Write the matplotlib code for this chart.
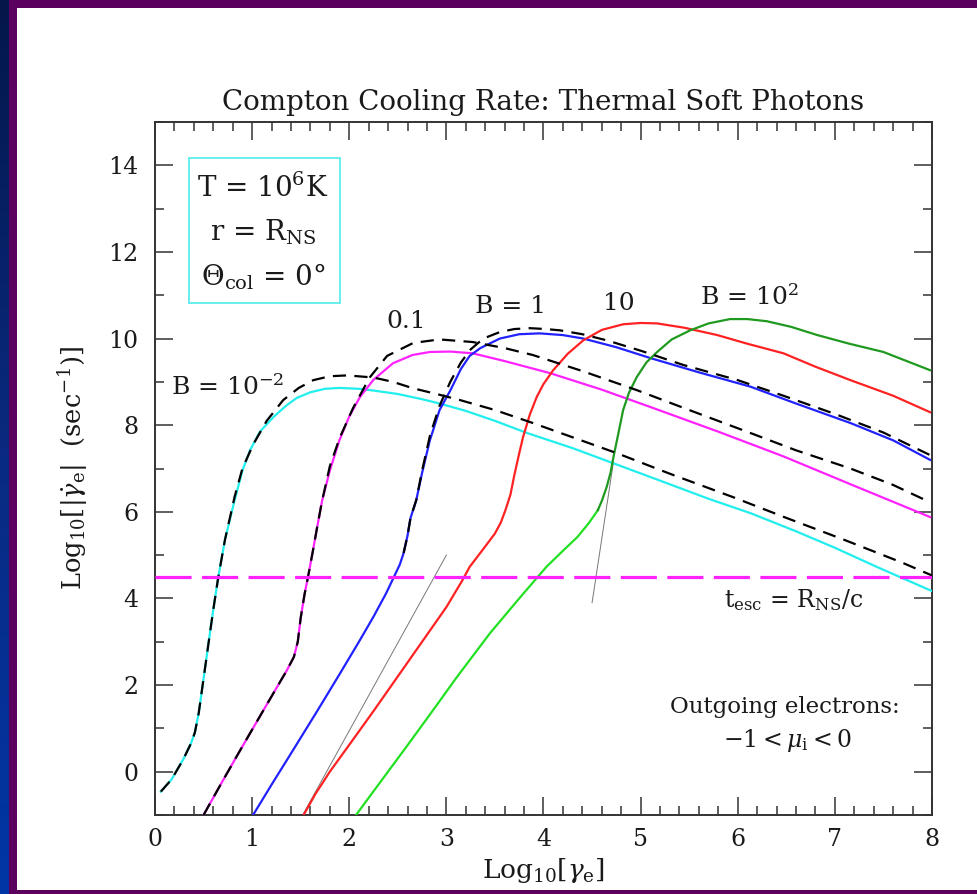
import numpy as np
import matplotlib
matplotlib.use("Agg")
import matplotlib.pyplot as plt
from matplotlib.patches import Rectangle
from matplotlib.ticker import MultipleLocator
from matplotlib.colors import LinearSegmentedColormap

plt.rcParams['font.family'] = ['DejaVu Serif']
plt.rcParams['mathtext.fontset'] = 'dejavuserif'
plt.rcParams['lines.scale_dashes'] = False

# ---------------- data ----------------
b001_solid_x = [0.06, 0.17, 0.29, 0.37, 0.41, 0.45, 0.50, 0.55, 0.60, 0.65, 0.72, 0.82, 0.90, 0.98, 1.08,
                1.22, 1.35, 1.46, 1.60, 1.75, 1.90, 2.10, 2.25, 2.50, 2.75, 2.93, 3.20, 3.50, 3.83, 4.30,
                4.72, 5.20, 5.70, 6.13, 6.60, 7.00, 7.43, 8.00]
b001_solid_y = [-0.46, -0.18, 0.28, 0.65, 0.90, 1.35, 2.15, 2.95, 3.74, 4.47, 5.35, 6.27, 6.95, 7.43, 7.85,
                8.19, 8.45, 8.63, 8.76, 8.84, 8.86, 8.84, 8.80, 8.72, 8.60, 8.50, 8.33, 8.10, 7.82, 7.47,
                7.12, 6.72, 6.30, 5.97, 5.55, 5.17, 4.73, 4.17]

b001_dash_x = [0.06, 0.17, 0.29, 0.37, 0.41, 0.45, 0.50, 0.55, 0.60, 0.65, 0.72, 0.82, 0.90, 1.01, 1.15,
               1.32, 1.48, 1.63, 1.80, 1.98, 2.25, 2.45, 2.66, 2.90, 3.14, 3.50, 3.89, 4.30, 4.76, 5.30,
               5.95, 6.50, 7.10, 7.70, 8.00]
b001_dash_y = [-0.46, -0.18, 0.28, 0.65, 0.90, 1.35, 2.15, 2.95, 3.74, 4.47, 5.35, 6.35, 7.00, 7.55, 8.10,
               8.58, 8.86, 9.04, 9.13, 9.15, 9.10, 9.00, 8.85, 8.72, 8.58, 8.35, 8.05, 7.72, 7.35, 6.88,
               6.34, 5.86, 5.35, 4.82, 4.53]

b01_solid_x = [0.50, 0.60, 0.70, 0.84, 1.00, 1.13, 1.25, 1.36, 1.43, 1.47, 1.50, 1.54, 1.58, 1.63, 1.67,
               1.72, 1.80, 1.90, 2.00, 2.11, 2.25, 2.45, 2.65, 2.83, 3.04, 3.27, 3.60, 4.07, 4.60, 5.10,
               5.80, 6.47, 7.20, 7.98]
b01_solid_y = [-1.00, -0.60, -0.20, 0.35, 0.97, 1.47, 1.93, 2.35, 2.65, 3.00, 3.55, 4.10, 4.55, 5.15, 5.65,
               6.25, 6.95, 7.66, 8.20, 8.65, 9.05, 9.43, 9.62, 9.69, 9.70, 9.66, 9.48, 9.20, 8.82, 8.42,
               7.85, 7.28, 6.60, 5.88]

b01_dash_x = [0.50, 0.60, 0.70, 0.84, 1.00, 1.13, 1.25, 1.36, 1.43, 1.47, 1.50, 1.54, 1.58, 1.63, 1.67,
              1.72, 1.80, 1.90, 2.04, 2.21, 2.39, 2.66, 2.93, 3.27, 3.60, 3.89, 4.40, 4.96, 5.50, 6.13,
              6.60, 7.16, 7.60, 7.98]
b01_dash_y = [-1.00, -0.60, -0.20, 0.35, 0.97, 1.47, 1.93, 2.35, 2.65, 3.00, 3.55, 4.10, 4.55, 5.15, 5.65,
              6.25, 7.05, 7.70, 8.40, 9.10, 9.60, 9.90, 9.98, 9.92, 9.78, 9.62, 9.25, 8.81, 8.35, 7.82,
              7.42, 7.00, 6.62, 6.22]

b1_solid_x = [1.01, 1.20, 1.40, 1.67, 1.90, 2.10, 2.25, 2.38, 2.45, 2.52, 2.56, 2.60, 2.63, 2.69, 2.75,
              2.83, 2.93, 3.04, 3.15, 3.24, 3.35, 3.55, 3.75, 3.96, 4.20, 4.41, 4.75, 5.10, 5.60, 6.13,
              6.60, 7.16, 7.60, 7.98]
b1_solid_y = [-1.00, -0.30, 0.42, 1.40, 2.25, 3.00, 3.58, 4.12, 4.45, 4.78, 5.05, 5.45, 5.85, 6.27, 6.90,
              7.65, 8.35, 8.80, 9.30, 9.60, 9.78, 10.00, 10.10, 10.12, 10.08, 10.00, 9.80, 9.55, 9.22, 8.89,
              8.50, 8.05, 7.65, 7.20]

b1_dash_x = [2.56, 2.60, 2.63, 2.69, 2.75, 2.83, 2.93, 3.04, 3.15, 3.25, 3.38, 3.55, 3.70, 3.86, 4.02,
             4.17, 4.40, 4.65, 5.00, 5.44, 6.00, 6.47, 7.00, 7.50, 7.98]
b1_dash_y = [5.05, 5.45, 5.85, 6.27, 6.95, 7.75, 8.45, 9.00, 9.45, 9.75, 10.00, 10.15, 10.22, 10.24, 10.22,
             10.19, 10.10, 9.96, 9.72, 9.39, 9.04, 8.68, 8.26, 7.83, 7.31]

b10_x = [1.53, 1.65, 1.80, 2.00, 2.25, 2.50, 2.75, 3.00, 3.16, 3.24, 3.40, 3.50, 3.56, 3.61, 3.66, 3.70,
         3.75, 3.79, 3.86, 3.93, 4.00, 4.10, 4.25, 4.41, 4.60, 4.82, 5.00, 5.17, 5.45, 5.79, 6.10,
         6.47, 6.80, 7.16, 7.60, 7.98]
b10_y = [-1.00, -0.52, 0.00, 0.62, 1.40, 2.20, 3.00, 3.80, 4.40, 4.73, 5.20, 5.50, 5.75, 6.05, 6.40, 6.85,
         7.35, 7.73, 8.25, 8.65, 8.95, 9.27, 9.65, 9.96, 10.20, 10.33, 10.36, 10.35, 10.25, 10.08, 9.88,
         9.66, 9.35, 9.04, 8.68, 8.30]

b100_low_x = [2.07, 2.30, 2.59, 2.85, 3.11, 3.45, 3.75, 4.03, 4.20, 4.35, 4.47, 4.56]
b100_low_y = [-1.00, -0.30, 0.58, 1.38, 2.19, 3.20, 4.00, 4.73, 5.10, 5.42, 5.75, 6.04]
b100_high_x = [4.56, 4.60, 4.65, 4.69, 4.72, 4.77, 4.82, 4.88, 4.96, 5.06, 5.17, 5.32, 5.51, 5.70, 5.92,
               6.10, 6.30, 6.55, 6.82, 7.15, 7.50, 7.98]
b100_high_y = [6.04, 6.25, 6.57, 6.90, 7.26, 7.80, 8.35, 8.75, 9.11, 9.45, 9.69, 9.98, 10.19, 10.35, 10.45,
               10.45, 10.40, 10.27, 10.08, 9.88, 9.69, 9.27]

guide1_x = [1.52, 3.00]
guide1_y = [-1.00, 5.00]
guide2_x = [4.50, 4.72]
guide2_y = [3.90, 7.15]

esc_rate = 4.5

x_ticks = [0, 1, 2, 3, 4, 5, 6, 7, 8]
y_ticks = [0, 2, 4, 6, 8, 10, 12, 14]

# ---------------- styles ----------------
TXT = '#1a1a1a'
C_CYAN = '#22eeee'
C_MAG = '#ff22ff'
C_BLUE = '#2222ff'
C_RED = '#ff2222'
C_GRN_L = '#22e022'
C_GRN_D = '#1f9a1f'
LW = 1.6
DASH = (0, (9.5, 6.0))

W, H = 978, 894
fig = plt.figure(figsize=(W / 100, H / 100), dpi=100)
fig.patch.set_facecolor('white')

# frame decoration
gax = fig.add_axes([0, 0, 9 / W, 1])
grad = np.linspace(0, 1, 256).reshape(-1, 1)
cmap = LinearSegmentedColormap.from_list('frame', ['#03174a', '#0a2a80', '#0036a6'])
gax.imshow(grad, aspect='auto', cmap=cmap, origin='upper', extent=[0, 1, 0, 1])
gax.set_axis_off()
PURPLE = '#5c0060'
fig.add_artist(Rectangle((9 / W, 0), 8 / W, 1, transform=fig.transFigure, color=PURPLE, zorder=20, lw=0))
fig.add_artist(Rectangle((9 / W, 1 - 8 / H), 1, 8 / H, transform=fig.transFigure, color=PURPLE, zorder=20, lw=0))
fig.add_artist(Rectangle((9 / W, 0), 1, 4 / H, transform=fig.transFigure, color=PURPLE, zorder=20, lw=0))

ax = fig.add_axes([155 / W, 1 - 815 / H, 777 / W, 693 / H])
ax.set_xlim(0, 8)
ax.set_ylim(-1, 15)

# curves
ax.plot(b001_solid_x, b001_solid_y, color=C_CYAN, lw=LW, zorder=3)
ax.plot(b01_solid_x, b01_solid_y, color=C_MAG, lw=LW, zorder=3)
ax.plot(b1_solid_x, b1_solid_y, color=C_BLUE, lw=LW, zorder=3)
ax.plot(b10_x, b10_y, color=C_RED, lw=LW, zorder=3)
ax.plot(b100_low_x, b100_low_y, color=C_GRN_L, lw=LW, zorder=3)
ax.plot(b100_high_x, b100_high_y, color=C_GRN_D, lw=LW, zorder=3)

for xs, ys in [(b001_dash_x, b001_dash_y), (b01_dash_x, b01_dash_y), (b1_dash_x, b1_dash_y)]:
    ax.plot(xs, ys, color='black', lw=1.6, linestyle=DASH, zorder=4)

ax.plot(guide1_x, guide1_y, color='#777777', lw=0.7, zorder=2)
ax.plot(guide2_x, guide2_y, color='#777777', lw=0.7, zorder=2)

ax.axhline(esc_rate, color=C_MAG, lw=2.3, linestyle=(0, (26, 7.5)), zorder=5)

# info box
ax.add_patch(Rectangle((0.355, 10.83), 1.55, 3.33, fill=False, edgecolor='#66eeee', lw=1.4, zorder=6))
ax.text(1.11, 13.26, r'T = 10$^{6}$K', ha='center', va='baseline', fontsize=20, color=TXT)
ax.text(1.11, 12.27, r'r = R$_{\rm NS}$', ha='center', va='baseline', fontsize=20, color=TXT)
ax.text(1.11, 11.23, r'$\Theta_{\rm col}$ = 0$\degree$', ha='center', va='baseline', fontsize=20, color=TXT)

# curve labels
LFS = 18
ax.text(0.16, 8.69, r'B = 10$^{-2}$', ha='left', va='baseline', fontsize=LFS, color=TXT)
ax.text(2.59, 10.24, '0.1', ha='center', va='baseline', fontsize=LFS, color=TXT)
ax.text(3.66, 10.58, 'B = 1', ha='center', va='baseline', fontsize=LFS, color=TXT)
ax.text(4.78, 10.65, '10', ha='center', va='baseline', fontsize=LFS, color=TXT)
ax.text(6.12, 10.77, r'B = 10$^{2}$', ha='center', va='baseline', fontsize=LFS, color=TXT)
ax.text(6.58, 3.81, r't$_{\rm esc}$ = R$_{\rm NS}$/c', ha='center', va='baseline', fontsize=17, color=TXT)
ax.text(6.49, 1.36, 'Outgoing electrons:', ha='center', va='baseline', fontsize=16.5, color=TXT)
ax.text(6.51, 0.58, r'$-1 < \mu_{\rm i} < 0$', ha='center', va='baseline', fontsize=17, color=TXT)

# axes styling
for s in ax.spines.values():
    s.set_color('#333333')
    s.set_linewidth(1.4)
ax.set_xticks(x_ticks)
ax.set_yticks(y_ticks)
ax.xaxis.set_minor_locator(MultipleLocator(0.2))
ax.yaxis.set_minor_locator(MultipleLocator(1))
ax.tick_params(which='both', direction='in', top=True, right=True, color='#333333', width=1.1,
               labelsize=17, labelcolor=TXT)
ax.tick_params(which='major', length=13)
ax.tick_params(which='minor', length=6.5)
ax.tick_params(axis='x', pad=9)
ax.tick_params(axis='y', pad=12)

ax.text(0.5, 1 + 12 / 693, 'Compton Cooling Rate: Thermal Soft Photons', transform=ax.transAxes,
        ha='center', va='baseline', fontsize=20, color=TXT)

ax.set_xlabel(r'Log$_{10}$[$\gamma_{\rm e}$]', fontsize=19, color=TXT)
ax.xaxis.label.set_va('baseline')
ax.xaxis.set_label_coords(0.5, (815 - 878) / 693)
ax.set_ylabel(r'Log$_{10}$[|$\dot{\gamma}_{\rm e}$|  (sec$^{-1}$)]', fontsize=18.5, color=TXT)
ax.yaxis.set_label_coords((90 - 155) / 777, 0.5)

fig.savefig('out.png', dpi=100)
